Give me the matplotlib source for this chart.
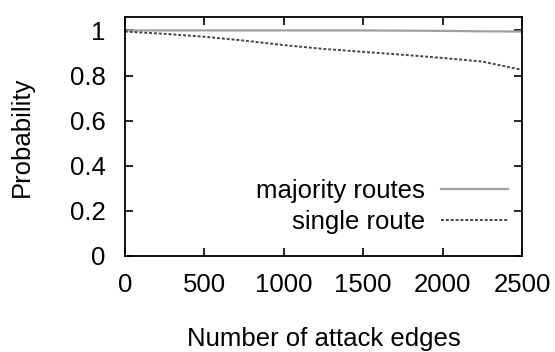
import matplotlib.pyplot as plt

# probability of routing correctly vs. number of attack edges
attack_edges = [0, 250, 500, 750, 1000, 1250, 1500, 1750, 2000, 2250, 2500]
majority_routes = [1.0, 1.0, 1.0, 1.0, 1.0, 1.0, 1.0, 0.999, 0.998, 0.996, 0.995]
single_route = [0.995, 0.985, 0.972, 0.955, 0.935, 0.918, 0.905, 0.892, 0.878, 0.862, 0.825]

plt.rcParams["font.family"] = ["Liberation Sans", "DejaVu Sans"]
fig = plt.figure(figsize=(5.55, 3.52), dpi=100)
ax = fig.add_axes([0.225, 0.273, 0.7155, 0.679])

ax.plot(attack_edges, majority_routes, color='#a0a0a0', linewidth=1.6, label='majority routes')
ax.plot(attack_edges, single_route, color='#444444', linewidth=1.4, linestyle=(0, (1.5, 1.0)),
        label='single route')

ax.set_xlim(0, 2500)
ax.set_ylim(0, 1.06)
ax.set_xticks([0, 500, 1000, 1500, 2000, 2500])
ax.set_yticks([0, 0.2, 0.4, 0.6, 0.8, 1])
ax.set_yticklabels(['0', '0.2', '0.4', '0.6', '0.8', '1'])
ax.tick_params(direction='in', top=True, right=True, length=6, width=1.2,
               labelsize=18.5)
ax.tick_params(axis='x', pad=12)
ax.tick_params(axis='y', pad=14)
for s in ax.spines.values():
    s.set_linewidth(1.3)

ax.set_xlabel('Number of attack edges', fontsize=18.5, labelpad=22)
ax.set_ylabel('Probability', fontsize=18.5, labelpad=26)

ax.legend(loc='lower right', frameon=False, fontsize=18.5, markerfirst=False,
          handlelength=2.6, handletextpad=0.6, labelspacing=0.28,
          bbox_to_anchor=(1.022, -0.005))

fig.savefig('out.png', dpi=100)
